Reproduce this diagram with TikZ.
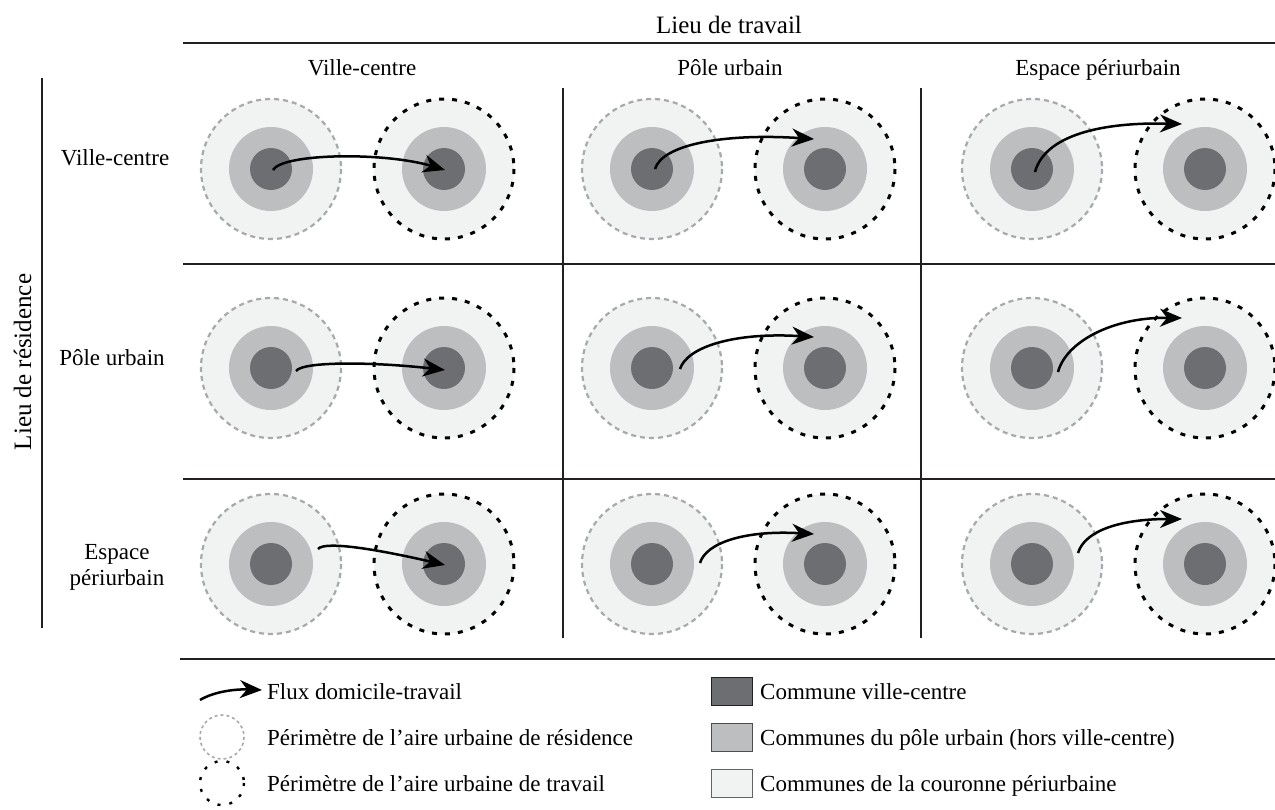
\documentclass[tikz,border=0pt]{standalone}
\usepackage{fontspec}
\setmainfont{Liberation Serif}
\usetikzlibrary{arrows.meta}
\definecolor{centregris}{HTML}{6D6E71}
\definecolor{polegris}{HTML}{BCBEC0}
\definecolor{couronne}{HTML}{F1F2F2}
\definecolor{tiretgris}{HTML}{A7A9AC}
\definecolor{trait}{HTML}{231F20}

\begin{document}
\begin{tikzpicture}[x=1pt,y=-1pt,
    every node/.style={font=\fontsize{23}{27}\selectfont,inner sep=0pt,anchor=base},
    titre/.style={font=\fontsize{25}{30}\selectfont},
    filet/.style={draw=trait,line width=1.6pt},
    flux/.style={line width=2.5pt,-{Stealth[length=22pt,width=18pt,inset=7pt]}},
    perimres/.style={draw=tiretgris,line width=2.2pt,dash pattern=on 5pt off 4pt},
    perimtrav/.style={draw=black,line width=3pt,dash pattern=on 5pt off 8pt}]
    \useasboundingbox (0,0) rectangle (1275,809);
    % en-tetes
    \node[titre] (lieutrav) at (729,33) {Lieu de travail};
    \node (coltrav1) at (362,75) {Ville-centre};
    \node (coltrav2) at (730,75) {P\^ole urbain};
    \node (coltrav3) at (1098,75) {Espace p\'eriurbain};
    \node[titre,rotate=90] (lieures) at (31,362) {Lieu de r\'esidence};
    \node (rowres1) at (115,165) {Ville-centre};
    \node (rowres2) at (112,365) {P\^ole urbain};
    \node (rowres3a) at (117,559) {Espace};
    \node (rowres3b) at (117,585) {p\'eriurbain};
    % filets
    \draw[filet] (183,43) -- (1275,43);
    \draw[filet] (183,264) -- (1275,264);
    \draw[filet] (183,479) -- (1275,479);
    \draw[filet] (180,659) -- (1275,659);
    \draw[filet] (563,88) -- (563,638);
    \draw[filet] (921,88) -- (921,638);
    \draw[filet] (42,78) -- (42,628);
    % aires urbaines
    \foreach \cx in {271,652,1032}
    \foreach \cy in {169,368,564}
    {
        \fill[couronne] (\cx,\cy) circle[radius=70] (\cx+173,\cy) circle[radius=70];
        \fill[polegris] (\cx,\cy) circle[radius=42] (\cx+173,\cy) circle[radius=42];
        \fill[centregris] (\cx,\cy) circle[radius=21] (\cx+173,\cy) circle[radius=21];
        \draw[perimres] (\cx,\cy) circle[radius=70];
        \draw[perimtrav] (\cx+173,\cy) circle[radius=70];
    }
    % flux domicile-travail
    \coordinate (dom11) at (273,170);  \coordinate (trav11) at (445,170);
    \coordinate (dom21) at (296,371);  \coordinate (trav21) at (445,370);
    \coordinate (dom31) at (318,549);  \coordinate (trav31) at (445,565);
    \coordinate (dom12) at (655,169);  \coordinate (trav12) at (814,139);
    \coordinate (dom22) at (680,369);  \coordinate (trav22) at (814,337);
    \coordinate (dom32) at (700,563);  \coordinate (trav32) at (814,534);
    \coordinate (dom13) at (1035,172); \coordinate (trav13) at (1182,124);
    \coordinate (dom23) at (1058,372); \coordinate (trav23) at (1182,318);
    \coordinate (dom33) at (1078,553); \coordinate (trav33) at (1182,519);
    \draw[flux] (dom11) .. controls +(10,-17) and +(-60,-18) .. (trav11);
    \draw[flux] (dom21) .. controls +(7,-10) and +(-70,-8) .. (trav21);
    \draw[flux] (dom31) .. controls +(7,-9) and +(-60,-14) .. (trav31);
    \draw[flux] (dom12) .. controls +(7,-24) and +(-92,-6) .. (trav12);
    \draw[flux] (dom22) .. controls +(7,-22) and +(-80,-5) .. (trav22);
    \draw[flux] (dom32) .. controls +(6,-20) and +(-70,-4) .. (trav32);
    \draw[flux] (dom13) .. controls +(10,-37) and +(-80,-2) .. (trav13);
    \draw[flux] (dom23) .. controls +(8,-30) and +(-70,-1) .. (trav23);
    \draw[flux] (dom33) .. controls +(7,-23) and +(-60,0) .. (trav33);
    % legende
    \coordinate (legdep) at (200,700); \coordinate (legarr) at (262,690);
    \draw[flux] (legdep) .. controls +(15,-9) and +(-25,-1) .. (legarr);
    \node[anchor=base west] (legflux) at (267,699) {Flux domicile-travail};
    \draw[perimres,line width=1.6pt,dash pattern=on 3pt off 3pt] (222,737) circle[radius=22];
    \node[anchor=base west] (legres) at (267,745) {P\'erim\`etre de l'aire urbaine de r\'esidence};
    \draw[perimtrav,line width=2.4pt,dash pattern=on 3pt off 9pt] (222,783) circle[radius=22];
    \node[anchor=base west] (legtrav) at (267,791) {P\'erim\`etre de l'aire urbaine de travail};
    \filldraw[fill=centregris,draw=trait,line width=1pt] (711,677) rectangle (752,705);
    \node[anchor=base west] (legcentre) at (760,699) {Commune ville-centre};
    \filldraw[fill=polegris,draw=trait!80,line width=1pt] (711,723) rectangle (752,751);
    \node[anchor=base west] (legpole) at (760,745) {Communes du p\^ole urbain (hors ville-centre)};
    \filldraw[fill=couronne,draw=trait!70,line width=1pt] (711,769) rectangle (752,797);
    \node[anchor=base west] (legcour) at (760,791) {Communes de la couronne p\'eriurbaine};
\end{tikzpicture}
\end{document}
